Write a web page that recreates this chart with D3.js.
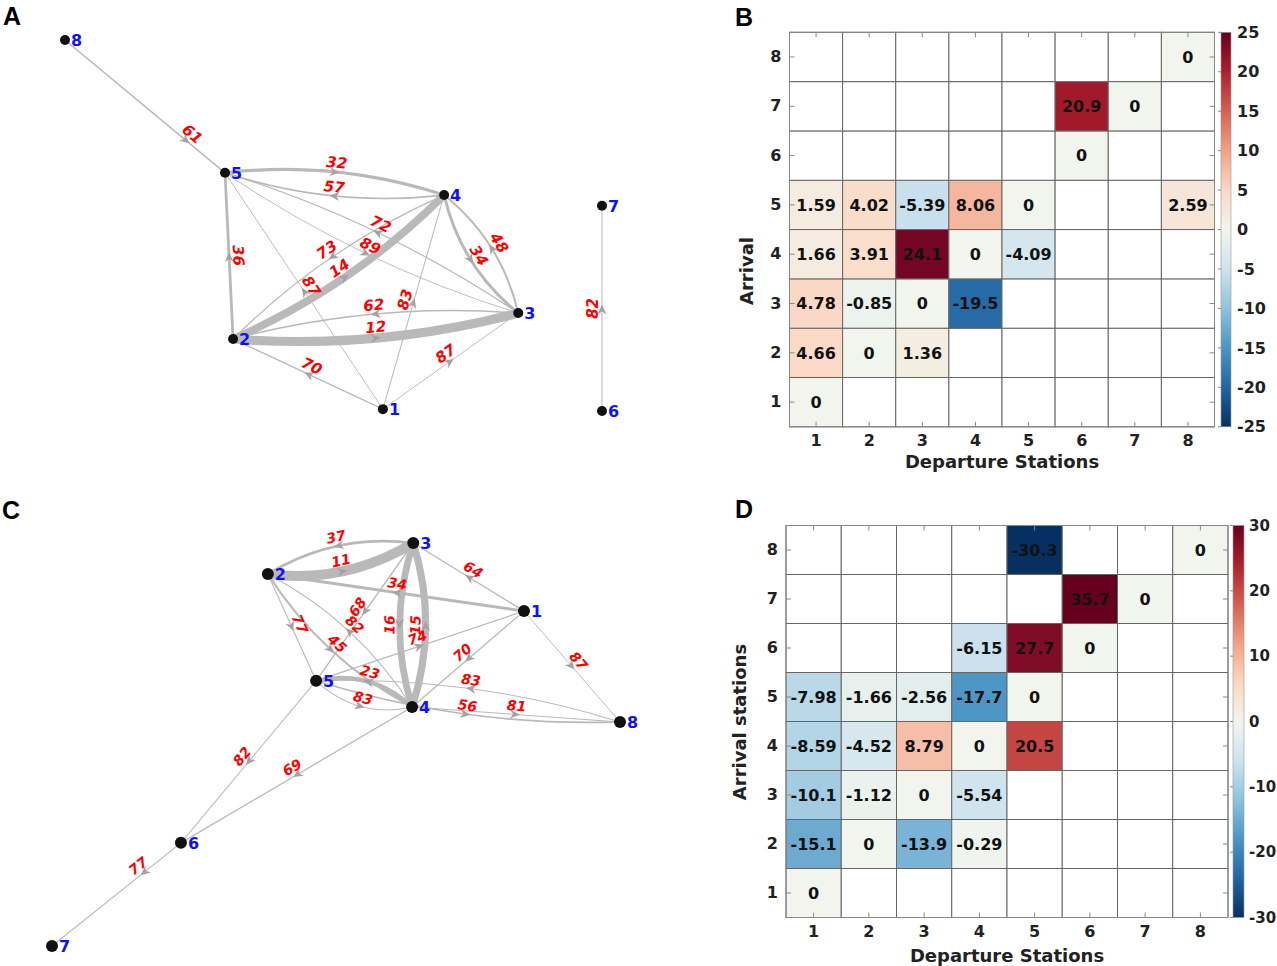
<!DOCTYPE html>
<html><head><meta charset="utf-8">
<script src="https://cdn.jsdelivr.net/npm/d3@7"></script>
<style>body{margin:0;background:#fff;} svg{display:block;font-family:"DejaVu Sans",sans-serif;}</style>
</head><body><svg id="c" width="1277" height="966"></svg>
<script>
// ================= DATA =================
const stations = [1, 2, 3, 4, 5, 6, 7, 8];

// Network A: node layout (relative units 0..1) and edges [from, to, label]
const netA_nodeX = [0.592, 0.313, 0.844, 0.706, 0.298, 1.0, 1.0, 0.0];
const netA_nodeY = [0.995, 0.806, 0.736, 0.418, 0.358, 1.0, 0.447, 0.0];
const netA_edges = [
  [2,4,14],[2,3,12],[8,5,61],[5,4,32],[4,5,57],[3,5,72],[5,3,89],[4,2,73],
  [2,5,36],[1,5,87],[3,2,62],[1,4,83],[4,3,34],[3,4,48],[1,2,70],[1,3,87],[6,7,82]
];

// Network C
const netC_nodeX = [0.831, 0.380, 0.636, 0.634, 0.465, 0.227, 0.0, 1.0];
const netC_nodeY = [0.169, 0.077, 0.0, 0.407, 0.342, 0.744, 1.0, 0.444];
const netC_edges = [
  [2,3,11],[3,4,16],[4,3,15],[3,2,37],[1,3,64],[1,2,34],[3,5,68],[4,2,82],[2,4,45],
  [2,5,77],[5,1,74],[1,4,70],[1,8,87],[4,5,23],[5,4,83],[8,5,83],[5,8,56],
  [4,8,81],[5,6,82],[4,6,69],[6,7,77]
];

// Heatmap B: rows = arrival 1..8, columns = departure 1..8
const heatB = [
  [0, null, null, null, null, null, null, null],
  [4.66, 0, 1.36, null, null, null, null, null],
  [4.78, -0.85, 0, -19.5, null, null, null, null],
  [1.66, 3.91, 24.1, 0, -4.09, null, null, null],
  [1.59, 4.02, -5.39, 8.06, 0, null, null, 2.59],
  [null, null, null, null, null, 0, null, null],
  [null, null, null, null, null, 20.9, 0, null],
  [null, null, null, null, null, null, null, 0]
];
const cbTicksB = [-25, -20, -15, -10, -5, 0, 5, 10, 15, 20, 25];

// Heatmap D
const heatD = [
  [0, null, null, null, null, null, null, null],
  [-15.1, 0, -13.9, -0.29, null, null, null, null],
  [-10.1, -1.12, 0, -5.54, null, null, null, null],
  [-8.59, -4.52, 8.79, 0, 20.5, null, null, null],
  [-7.98, -1.66, -2.56, -17.7, 0, null, null, null],
  [null, null, null, -6.15, 27.7, 0, null, null],
  [null, null, null, null, null, 35.7, 0, null],
  [null, null, null, null, -30.3, null, null, 0]
];
const cbTicksD = [-30, -20, -10, 0, 10, 20, 30];

// ================= DRAW =================
const svg = d3.select("#c");
const widthScale = d3.scaleLinear().domain([1/90, 1/11]).range([0.9, 10]).clamp(true);

// diverging palette (blue -> near white -> red), neutral centre slightly greenish like the original
const paletteStops = d3.range(0, 1.0001, 0.1).map(f => Math.abs(f - 0.5) < 1e-6 ? "#f2f5ee" : d3.interpolateRdBu(1 - f));
const palette = d3.piecewise(d3.interpolateRgb, paletteStops);

function panelLetter(t, x, y) {
  svg.append("text").attr("x", x).attr("y", y).text(t)
    .attr("font-family", "Liberation Sans, Arial, sans-serif")
    .attr("font-weight", "bold").attr("font-size", 25).attr("fill", "#000");
}

function drawNet(cfg) {
  const g = svg.append("g");
  const x = d3.scaleLinear().domain([0, 1]).range(cfg.xr);
  const y = d3.scaleLinear().domain([0, 1]).range(cfg.yr);
  const pos = i => [x(cfg.nx[i - 1]), y(cfg.ny[i - 1])];
  const key = (a, b) => a + "-" + b;
  const present = new Set(cfg.edges.map(e => key(e[0], e[1])));
  const geo = cfg.edges.map(([s, t, v]) => {
    const [x1, y1] = pos(s), [x2, y2] = pos(t);
    const L = Math.hypot(x2 - x1, y2 - y1);
    const nx = -(y2 - y1) / L, ny = (x2 - x1) / L;
    let sag = present.has(key(t, s)) ? cfg.sag : 0;
    if (cfg.flip.includes(key(s, t))) sag = -sag;
    const cx = (x1 + x2) / 2 + nx * 2 * sag, cy = (y1 + y2) / 2 + ny * 2 * sag;
    const tt = cfg.tpos[key(s, t)] ?? 0.5;
    const bx = (1 - tt) * (1 - tt) * x1 + 2 * tt * (1 - tt) * cx + tt * tt * x2;
    const by = (1 - tt) * (1 - tt) * y1 + 2 * tt * (1 - tt) * cy + tt * tt * y2;
    const tx = 2 * (1 - tt) * (cx - x1) + 2 * tt * (x2 - cx);
    const ty = 2 * (1 - tt) * (cy - y1) + 2 * tt * (y2 - cy);
    const ang = Math.atan2(ty, tx) * 180 / Math.PI;
    let la = ang; if (la > 90.001) la -= 180; if (la < -90.001) la += 180;
    return {s, t, v, x1, y1, x2, y2, cx, cy, bx, by, ang, la, w: widthScale(1 / v)};
  });
  g.selectAll("path.edge").data(geo).join("path").attr("class", "edge")
    .attr("d", d => `M${d.x1},${d.y1}Q${d.cx},${d.cy} ${d.x2},${d.y2}`)
    .attr("fill", "none").attr("stroke", "#b9b9b9").attr("stroke-width", d => d.w);
  g.selectAll("path.arr").data(geo).join("path").attr("class", "arr")
    .attr("d", "M-6,-4.5L4,0L-6,4.5L-3,0Z")
    .attr("transform", d => `translate(${d.bx},${d.by}) rotate(${d.ang})`)
    .attr("fill", "#a3a3a3");
  g.selectAll("text.el").data(geo).join("text").attr("class", "el")
    .attr("transform", d => `translate(${d.bx},${d.by}) rotate(${d.la})`)
    .attr("y", d => -(3.5 + d.w * 0.25))
    .attr("text-anchor", "middle").attr("fill", "#ff0000")
    .attr("font-weight", "bold").attr("font-style", "italic").attr("font-size", cfg.fs)
    .text(d => d.v);
  const nodes = stations.map(s => ({s, p: pos(s)}));
  g.selectAll("circle").data(nodes).join("circle")
    .attr("cx", d => d.p[0]).attr("cy", d => d.p[1]).attr("r", cfg.r).attr("fill", "#111");
  g.selectAll("text.nl").data(nodes).join("text").attr("class", "nl")
    .attr("x", d => d.p[0] + cfg.r + 1).attr("y", d => d.p[1]).attr("dy", "0.36em")
    .attr("fill", "#1010ff").attr("font-weight", "bold").attr("font-size", 16)
    .text(d => d.s);
}

function drawHeat(cfg) {
  const g = svg.append("g");
  const x = d3.scaleBand().domain(stations).range(cfg.xr);
  const y = d3.scaleBand().domain(stations.slice().reverse()).range(cfg.yr);
  const cval = d3.scaleLinear().domain([-cfg.vmax, cfg.vmax]).range([0, 1]).clamp(true);
  const color = v => palette(cval(v));
  const cells = [];
  cfg.data.forEach((row, ri) => row.forEach((v, ci) => cells.push({arr: stations[ri], dep: stations[ci], v})));
  g.selectAll("rect.cell").data(cells).join("rect").attr("class", "cell")
    .attr("x", d => x(d.dep)).attr("y", d => y(d.arr))
    .attr("width", x.bandwidth()).attr("height", y.bandwidth())
    .attr("fill", d => d.v === null ? "#ffffff" : color(d.v))
    .attr("stroke", "#666").attr("stroke-width", 1);
  g.selectAll("text.val").data(cells.filter(d => d.v !== null)).join("text").attr("class", "val")
    .attr("x", d => x(d.dep) + x.bandwidth() / 2).attr("y", d => y(d.arr) + y.bandwidth() / 2)
    .attr("dy", "0.36em").attr("text-anchor", "middle")
    .attr("font-weight", "bold").attr("font-size", 16).attr("fill", "#111")
    .text(d => String(d.v));
  // inward ticks on all four sides
  const [x0, x1] = cfg.xr, [y0, y1] = cfg.yr;
  const tk = 5;
  stations.forEach(s => {
    const cx = x(s) + x.bandwidth() / 2, cy = y(s) + y.bandwidth() / 2;
    g.append("line").attr("x1", cx).attr("x2", cx).attr("y1", y1).attr("y2", y1 - tk).attr("stroke", "#888");
    g.append("line").attr("x1", cx).attr("x2", cx).attr("y1", y0).attr("y2", y0 + tk).attr("stroke", "#888");
    g.append("line").attr("y1", cy).attr("y2", cy).attr("x1", x0).attr("x2", x0 + tk).attr("stroke", "#888");
    g.append("line").attr("y1", cy).attr("y2", cy).attr("x1", x1).attr("x2", x1 - tk).attr("stroke", "#888");
  });
  g.append("rect").attr("x", x0).attr("y", y0).attr("width", x1 - x0).attr("height", y1 - y0)
    .attr("fill", "none").attr("stroke", "#888");
  // axes
  const ax = g.append("g").attr("transform", `translate(0,${y1})`)
    .call(d3.axisBottom(x).tickSize(0).tickPadding(8));
  const ay = g.append("g").attr("transform", `translate(${x0},0)`)
    .call(d3.axisLeft(y).tickSize(0).tickPadding(8));
  [ax, ay].forEach(a => {
    a.select(".domain").remove();
    a.selectAll("text").attr("font-family", "DejaVu Sans").attr("font-weight", "bold")
      .attr("font-size", 16).attr("fill", "#222");
  });
  g.append("text").attr("x", (x0 + x1) / 2).attr("y", cfg.xtY).attr("text-anchor", "middle")
    .attr("font-weight", "bold").attr("font-size", 18).attr("fill", "#222").text("Departure Stations");
  g.append("text").attr("transform", `translate(${cfg.ytX},${cfg.ytY}) rotate(-90)`)
    .attr("text-anchor", "middle").attr("dy", "0.36em")
    .attr("font-weight", "bold").attr("font-size", 18).attr("fill", "#222").text(cfg.ytitle);
  // colorbar
  const cb = d3.scaleLinear().domain([-cfg.vmax, cfg.vmax]).range([y1, y0]);
  const gid = "grad" + cfg.id;
  const grad = svg.append("defs").append("linearGradient").attr("id", gid)
    .attr("x1", 0).attr("y1", 1).attr("x2", 0).attr("y2", 0);
  d3.range(0, 1.0001, 0.05).forEach(f => grad.append("stop").attr("offset", f)
    .attr("stop-color", palette(f)));
  const [c0, c1] = cfg.cbx;
  g.append("rect").attr("x", c0).attr("y", y0).attr("width", c1 - c0).attr("height", y1 - y0)
    .attr("fill", `url(#${gid})`).attr("stroke", "#999").attr("stroke-width", 0.6);
  cfg.ticks.forEach(t => {
    g.append("line").attr("x1", c0 - 3).attr("x2", c0).attr("y1", cb(t)).attr("y2", cb(t)).attr("stroke", "#888");
  });
  const ac = g.append("g").attr("transform", `translate(${c1},0)`)
    .call(d3.axisRight(cb).tickValues(cfg.ticks).tickFormat(d => String(d)).tickSize(0).tickPadding(cfg.cbPad));
  ac.select(".domain").remove();
  ac.selectAll("text").attr("font-family", "DejaVu Sans").attr("font-weight", "bold")
    .attr("font-size", cfg.cbFs).attr("fill", "#222");
}

drawNet({nx: netA_nodeX, ny: netA_nodeY, edges: netA_edges, xr: [65, 602], yr: [40, 411],
  sag: 12, flip: ["5-4", "4-5"], tpos: {"8-5": 0.76}, fs: 15, r: 5});
drawNet({nx: netC_nodeX, ny: netC_nodeY, edges: netC_edges, xr: [52, 620], yr: [543, 946],
  sag: 13, flip: [], tpos: {"6-7": 0.29}, fs: 14, r: 6});

drawHeat({id: "B", data: heatB, xr: [789.5, 1214.5], yr: [32.3, 426.8], vmax: 25, ticks: cbTicksB,
  cbx: [1221, 1231], xtY: 468, ytX: 747, ytY: 271, ytitle: "Arrival", cbPad: 6, cbFs: 16});
drawHeat({id: "D", data: heatD, xr: [786, 1228], yr: [525.5, 917.5], vmax: 30, ticks: cbTicksD,
  cbx: [1233, 1244], xtY: 962, ytX: 740, ytY: 722, ytitle: "Arrival stations", cbPad: 5, cbFs: 15});

panelLetter("A", 3, 25);
panelLetter("B", 735, 26);
panelLetter("C", 2, 519);
panelLetter("D", 735, 518);
</script></body></html>
